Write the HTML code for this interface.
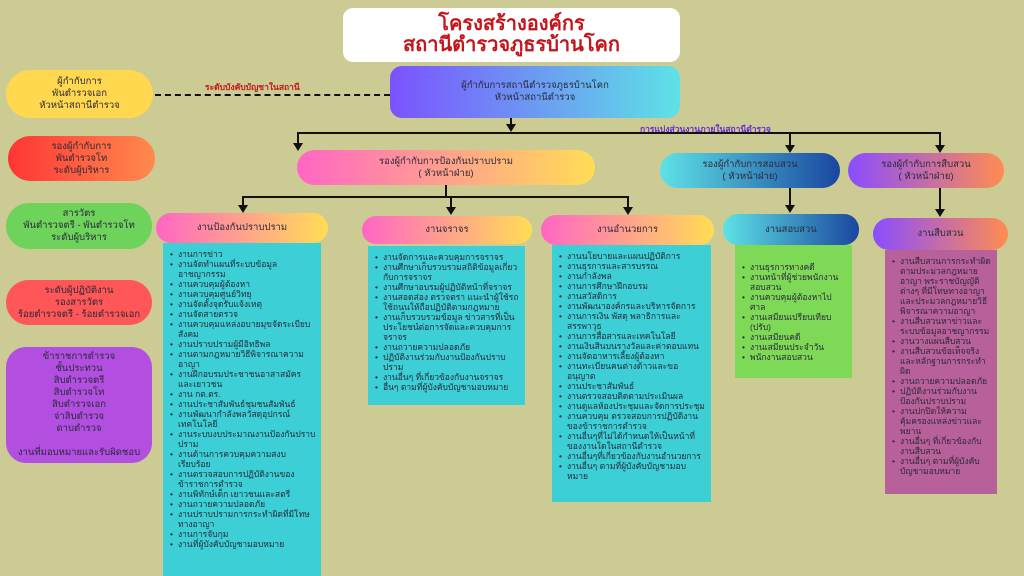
<!DOCTYPE html>
<html><head><meta charset="utf-8"><style>
*{margin:0;padding:0;box-sizing:border-box}
body{width:1024px;height:576px;background:#cbcb93;position:relative;overflow:hidden;font-family:"Liberation Sans","DejaVu Sans",sans-serif;color:#2a2a3a}
.a{position:absolute}
.pill{position:absolute;display:flex;align-items:center;justify-content:center;text-align:center;font-size:9.5px;line-height:12px;border-radius:18px}
.list{position:absolute;font-size:8.5px;line-height:10px;padding:6px 5px 4px 6px}
.list ul{list-style:none}
.list li{padding-left:9px;position:relative}
.list li:before{content:"•";position:absolute;left:1px}
.ln{position:absolute;background:#111}
.ar{position:absolute;width:0;height:0;border-left:5px solid transparent;border-right:5px solid transparent;border-top:8px solid #111}
</style></head><body>
<div class="pill" style="left:343px;top:8px;width:337px;height:54px;background:#fff;border-radius:10px;color:#c4141c;font-weight:bold;font-size:20px;line-height:21px">โครงสร้างองค์กร<br>สถานีตำรวจภูธรบ้านโคก</div>
<div class="pill" style="left:390px;top:66px;width:290px;height:52px;border-radius:12px;background:linear-gradient(90deg,#7b52ff,#5ee2e6)">ผู้กำกับการสถานีตำรวจภูธรบ้านโคก<br>หัวหน้าสถานีตำรวจ</div>
<div class="a" style="left:155px;top:94px;width:235px;border-top:2px dashed #111"></div>
<div class="a" style="left:205px;top:80px;font-size:8.5px;color:#c4141c;font-weight:bold">ระดับบังคับบัญชาในสถานี</div>
<div class="a" style="left:640px;top:122px;font-size:8.5px;color:#6a2ad0;font-weight:bold">การแบ่งส่วนงานภายในสถานีตำรวจ</div>
<div class="ln" style="left:510px;top:118px;width:2px;height:8px"></div><div class="ar" style="left:506px;top:124px"></div>
<div class="ln" style="left:297px;top:132px;width:643px;height:2px"></div>
<div class="ln" style="left:297px;top:132px;width:2px;height:12px"></div><div class="ar" style="left:293px;top:143px"></div>
<div class="ln" style="left:789px;top:132px;width:2px;height:14px"></div><div class="ar" style="left:785px;top:145px"></div>
<div class="ln" style="left:939px;top:132px;width:2px;height:14px"></div><div class="ar" style="left:935px;top:145px"></div>
<div class="pill" style="left:297px;top:150px;width:298px;height:35px;background:linear-gradient(90deg,#ff66c4,#ffdd55)">รองผู้กำกับการป้องกันปราบปราม<br>( หัวหน้าฝ่าย)</div>
<div class="pill" style="left:660px;top:153px;width:180px;height:35px;background:linear-gradient(90deg,#5ee2e6,#1a46a0)">รองผู้กำกับการสอบสวน<br>( หัวหน้าฝ่าย)</div>
<div class="pill" style="left:848px;top:153px;width:156px;height:35px;background:linear-gradient(90deg,#8a4dff,#ff8c50)">รองผู้กำกับการสืบสวน<br>( หัวหน้าฝ่าย)</div>
<div class="ln" style="left:445px;top:185px;width:2px;height:13px"></div>
<div class="ln" style="left:242px;top:196px;width:387px;height:2px"></div>
<div class="ln" style="left:242px;top:196px;width:2px;height:10px"></div><div class="ar" style="left:238px;top:205px"></div>
<div class="ln" style="left:450px;top:196px;width:2px;height:12px"></div><div class="ar" style="left:446px;top:207px"></div>
<div class="ln" style="left:627px;top:196px;width:2px;height:12px"></div><div class="ar" style="left:623px;top:207px"></div>
<div class="ln" style="left:789px;top:188px;width:2px;height:18px"></div><div class="ar" style="left:785px;top:205px"></div>
<div class="ln" style="left:939px;top:188px;width:2px;height:22px"></div><div class="ar" style="left:935px;top:209px"></div>
<div class="pill" style="left:6px;top:70px;width:147px;height:48px;border-radius:24px;background:#ffd84f">ผู้กำกับการ<br>พันตำรวจเอก<br>หัวหน้าสถานีตำรวจ</div>
<div class="pill" style="left:8px;top:136px;width:147px;height:45px;border-radius:23px;background:linear-gradient(90deg,#ff3535,#ff8a4d)">รองผู้กำกับการ<br>พันตำรวจโท<br>ระดับผู้บริหาร</div>
<div class="pill" style="left:6px;top:203px;width:146px;height:46px;border-radius:23px;background:#6ed35a">สารวัตร<br>พันตำรวจตรี - พันตำรวจโท<br>ระดับผู้บริหาร</div>
<div class="pill" style="left:6px;top:280px;width:146px;height:45px;border-radius:23px;background:#ff5757">ระดับผู้ปฏิบัติงาน<br>รองสารวัตร<br>ร้อยตำรวจตรี - ร้อยตำรวจเอก</div>
<div class="pill" style="left:6px;top:347px;width:146px;height:116px;border-radius:20px;background:#b24fe0">ข้าราชการตำรวจ<br>ชั้นประทวน<br>สิบตำรวจตรี<br>สิบตำรวจโท<br>สิบตำรวจเอก<br>จ่าสิบตำรวจ<br>ดาบตำรวจ<br><br>งานที่มอบหมายและรับผิดชอบ</div>
<div class="pill" style="left:156px;top:213px;width:172px;height:30px;border-radius:15px;background:linear-gradient(90deg,#ff66c4,#ffdd55)">งานป้องกันปราบปราม</div>
<div class="list" style="left:163px;top:243px;width:158px;height:333px;background:#3ccfd6"><ul>
<li>งานการข่าว</li><li>งานจัดทำแผนที่ระบบข้อมูลอาชญากรรม</li><li>งานควบคุมผู้ต้องหา</li><li>งานควบคุมศูนย์วิทยุ</li><li>งานจัดตั้งจุดรับแจ้งเหตุ</li><li>งานจัดสายตรวจ</li><li>งานควบคุมแหล่งอบายมุขจัดระเบียบสังคม</li><li>งานปราบปรามผู้มีอิทธิพล</li><li>งานตามกฎหมายวิธีพิจารณาความอาญา</li><li>งานฝึกอบรมประชาชนอาสาสมัครและเยาวชน</li><li>งาน กต.ตร.</li><li>งานประชาสัมพันธ์ชุมชนสัมพันธ์</li><li>งานพัฒนากำลังพลวัสดุอุปกรณ์เทคโนโลยี</li><li>งานระบบงบประมาณงานป้องกันปราบปราม</li><li>งานด้านการควบคุมความสงบเรียบร้อย</li><li>งานตรวจสอบการปฏิบัติงานของข้าราชการตำรวจ</li><li>งานพิทักษ์เด็ก เยาวชนและสตรี</li><li>งานถวายความปลอดภัย</li><li>งานปราบปรามการกระทำผิดที่มีโทษทางอาญา</li><li>งานการจับกุม</li><li>งานที่ผู้บังคับบัญชามอบหมาย</li></ul></div>
<div class="pill" style="left:362px;top:216px;width:170px;height:28px;border-radius:14px;background:linear-gradient(90deg,#ff66c4,#ffdd55)">งานจราจร</div>
<div class="list" style="left:368px;top:246px;width:157px;height:159px;background:#3ccfd6"><ul>
<li>งานจัดการและควบคุมการจราจร</li><li>งานศึกษาเก็บรวบรวมสถิติข้อมูลเกี่ยวกับการจราจร</li><li>งานศึกษาอบรมผู้ปฏิบัติหน้าที่จราจร</li><li>งานสอดส่อง ตรวจตรา แนะนำผู้ใช้รถใช้ถนนให้ถือปฏิบัติตามกฎหมาย</li><li>งานเก็บรวบรวมข้อมูล ข่าวสารที่เป็นประโยชน์ต่อการจัดและควบคุมการจราจร</li><li>งานถวายความปลอดภัย</li><li>ปฏิบัติงานร่วมกับงานป้องกันปราบปราม</li><li>งานอื่นๆ ที่เกี่ยวข้องกับงานจราจร</li><li>อื่นๆ ตามที่ผู้บังคับบัญชามอบหมาย</li></ul></div>
<div class="pill" style="left:541px;top:215px;width:173px;height:30px;border-radius:15px;background:linear-gradient(90deg,#ff66c4,#ffdd55)">งานอำนวยการ</div>
<div class="list" style="left:552px;top:245px;width:159px;height:257px;background:#3ccfd6"><ul>
<li>งานนโยบายและแผนปฏิบัติการ</li><li>งานธุรการและสารบรรณ</li><li>งานกำลังพล</li><li>งานการศึกษาฝึกอบรม</li><li>งานสวัสดิการ</li><li>งานพัฒนาองค์กรและบริหารจัดการ</li><li>งานการเงิน พัสดุ พลาธิการและสรรพาวุธ</li><li>งานการสื่อสารและเทคโนโลยี</li><li>งานเงินสินบนรางวัลและค่าตอบแทน</li><li>งานจัดอาหารเลี้ยงผู้ต้องหา</li><li>งานทะเบียนคนต่างด้าวและขออนุญาต</li><li>งานประชาสัมพันธ์</li><li>งานตรวจสอบติดตามประเมินผล</li><li>งานดูแลห้องประชุมและจัดการประชุม</li><li>งานควบคุม ตรวจสอบการปฏิบัติงานของข้าราชการตำรวจ</li><li>งานอื่นๆที่ไม่ได้กำหนดให้เป็นหน้าที่ของงานใดในสถานีตำรวจ</li><li>งานอื่นๆที่เกี่ยวข้องกับงานอำนวยการ</li><li>งานอื่นๆ ตามที่ผู้บังคับบัญชามอบหมาย</li></ul></div>
<div class="pill" style="left:723px;top:214px;width:136px;height:31px;border-radius:15px;background:linear-gradient(90deg,#5ee2e6,#1a46a0)">งานสอบสวน</div>
<div class="list" style="left:735px;top:245px;width:117px;height:133px;background:#7ed957;padding-top:17px"><ul>
<li>งานธุรการทางคดี</li><li>งานหน้าที่ผู้ช่วยพนักงานสอบสวน</li><li>งานควบคุมผู้ต้องหาไปศาล</li><li>งานเสมียนเปรียบเทียบ (ปรับ)</li><li>งานเสมียนคดี</li><li>งานเสมียนประจำวัน</li><li>พนักงานสอบสวน</li></ul></div>
<div class="pill" style="left:873px;top:218px;width:135px;height:32px;border-radius:16px;background:linear-gradient(90deg,#8a4dff,#ff8c50)">งานสืบสวน</div>
<div class="list" style="left:885px;top:250px;width:112px;height:244px;background:#b8609a;padding-right:3px"><ul>
<li>งานสืบสวนการกระทำผิดตามประมวลกฎหมายอาญา พระราชบัญญัติต่างๆ ที่มีโทษทางอาญาและประมวลกฎหมายวิธีพิจารณาความอาญา</li><li>งานสืบสวนหาข่าวและระบบข้อมูลอาชญากรรม</li><li>งานวางแผนสืบสวน</li><li>งานสืบสวนข้อเท็จจริงและหลักฐานการกระทำผิด</li><li>งานถวายความปลอดภัย</li><li>ปฏิบัติงานร่วมกับงานป้องกันปราบปราม</li><li>งานปกปิดให้ความคุ้มครองแหล่งข่าวและพยาน</li><li>งานอื่นๆ ที่เกี่ยวข้องกับงานสืบสวน</li><li>งานอื่นๆ ตามที่ผู้บังคับบัญชามอบหมาย</li></ul></div>
</body></html>
